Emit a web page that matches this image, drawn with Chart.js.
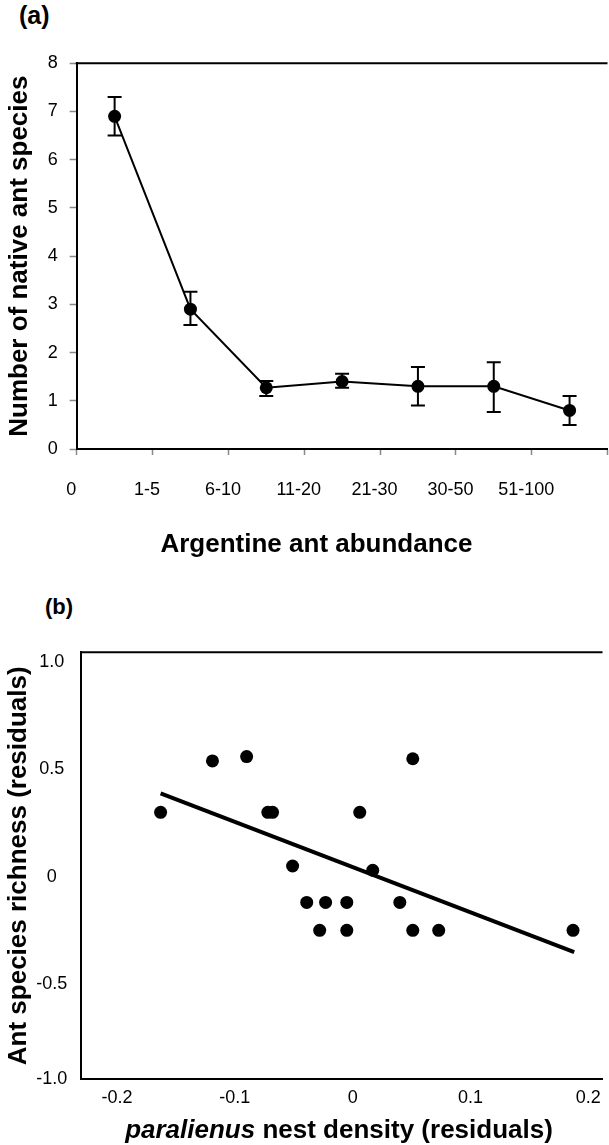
<!DOCTYPE html>
<html>
<head>
<meta charset="utf-8">
<script src="https://cdn.jsdelivr.net/npm/chart.js@4.4.1/dist/chart.umd.min.js"></script>
<style>
  html, body { margin: 0; padding: 0; background: #fff; overflow: hidden; }
  body { width: 609px; height: 1145px; position: relative; font-family: 'Liberation Sans', Arial, sans-serif; }
  .wrap { position: absolute; left: 0; }
  #wrapA { top: 0; width: 614px; height: 580px; }
  #wrapB { top: 580px; width: 609px; height: 565px; }
  .lbl { position: absolute; font-weight: bold; color: #000; white-space: nowrap; line-height: 1; }
</style>
</head>
<body>
<div class="lbl" style="left:19px; top:3px; font-size:25px;">(a)</div>
<div class="wrap" id="wrapA"><canvas id="chartA" width="614" height="580"></canvas></div>
<div class="lbl" style="left:0; width:633px; text-align:center; top:530px; font-size:26px;">Argentine ant abundance</div>

<div class="lbl" style="left:45px; top:596px; font-size:22px;">(b)</div>
<div class="wrap" id="wrapB"><canvas id="chartB" width="609" height="565"></canvas></div>
<div class="lbl" style="left:0; width:678px; text-align:center; top:1116px; font-size:26px;"><i>paralienus</i> nest density (residuals)</div>

<script>
// panel (a): native species vs Argentine ant abundance class
const abundance = ['0', '1-5', '6-10', '11-20', '21-30', '30-50', '51-100'];
const meanSpecies = [6.9, 2.9, 1.27, 1.4, 1.3, 1.3, 0.8];
const upperSpecies = [7.3, 3.26, 1.41, 1.56, 1.7, 1.8, 1.1];
const lowerSpecies = [6.5, 2.57, 1.1, 1.27, 0.9, 0.77, 0.5];

// panel (b): residual scatter + fitted line
const densityX = [-0.163, -0.119, -0.090, -0.072, -0.068, 0.006, 0.051, -0.051, 0.017,
                  -0.039, -0.023, -0.005, 0.040, -0.028, -0.005, 0.051, 0.073, 0.187];
const richnessY = [0.30, 0.54, 0.56, 0.30, 0.30, 0.30, 0.55, 0.05, 0.03,
                   -0.12, -0.12, -0.12, -0.12, -0.25, -0.25, -0.25, -0.25, -0.25];
const fitX = [-0.163, 0.188];
const fitY = [0.389, -0.352];
const xTicksB = [-0.2, -0.1, 0, 0.1, 0.2];
const yTicksB = [-1.0, -0.5, 0, 0.5, 1.0];

Chart.defaults.font.family = "'Liberation Sans', Arial, sans-serif";
Chart.defaults.color = '#000';

const fmt = v => (v === 0 ? '0' : v.toFixed(1));

// plot rectangles (canvas px)
const areaA = { left: 76.7, top: 63.3, right: 613.4, bottom: 449, height: 580 };
const areaB = { left: 81.3, top: 72.3, bottom: 499.3, height: 565 };

const topFrame = {
  id: 'topFrame',
  afterDraw(chart) {
    const a = chart.chartArea, ctx = chart.ctx;
    ctx.save();
    ctx.strokeStyle = '#000';
    ctx.lineWidth = 2;
    ctx.beginPath();
    ctx.moveTo(a.left - 1, a.top);
    ctx.lineTo(a.right, a.top);
    ctx.stroke();
    ctx.restore();
  }
};

const errorBars = {
  id: 'errorBars',
  beforeDatasetsDraw(chart) {
    const meta = chart.getDatasetMeta(0);
    const y = chart.scales.y;
    const ctx = chart.ctx;
    ctx.save();
    ctx.strokeStyle = '#000';
    ctx.lineWidth = 2;
    meta.data.forEach((pt, i) => {
      const top = y.getPixelForValue(upperSpecies[i]);
      const bot = y.getPixelForValue(lowerSpecies[i]);
      ctx.beginPath();
      ctx.moveTo(pt.x, top); ctx.lineTo(pt.x, bot);
      ctx.moveTo(pt.x - 7, top); ctx.lineTo(pt.x + 7, top);
      ctx.moveTo(pt.x - 7, bot); ctx.lineTo(pt.x + 7, bot);
      ctx.stroke();
    });
    ctx.restore();
  }
};

new Chart(document.getElementById('chartA'), {
  type: 'line',
  data: {
    labels: abundance,
    datasets: [{
      data: meanSpecies,
      borderColor: '#000',
      borderWidth: 2,
      backgroundColor: '#000',
      pointRadius: 6.5,
      pointBorderWidth: 0,
      tension: 0
    }]
  },
  options: {
    responsive: false,
    animation: false,
    devicePixelRatio: 1,
    layout: { padding: { top: areaA.top, left: 0, right: 0, bottom: 0 } },
    plugins: { legend: { display: false }, tooltip: { enabled: false } },
    scales: {
      x: {
        type: 'category',
        offset: true,
        grid: { offset: true, drawOnChartArea: false, drawTicks: true, tickLength: 6, tickColor: '#888', tickWidth: 1.5 },
        border: { color: '#000', width: 2 },
        ticks: {
          // labels sit near the left boundary of each class
          labelOffset: -(areaA.right - areaA.left) / abundance.length / 2 - 5,
          padding: 24, font: { size: 18 }, color: '#000', maxRotation: 0, autoSkip: false
        },
        afterFit(s) { s.height = areaA.height - areaA.bottom; s.paddingLeft = 0; s.paddingRight = 0; }
      },
      y: {
        min: 0, max: 8,
        ticks: { stepSize: 1, padding: 12, font: { size: 18 }, color: '#000' },
        grid: { drawOnChartArea: false, tickLength: 7, tickColor: '#888', tickWidth: 1.5 },
        border: { color: '#000', width: 2 },
        title: {
          display: true, text: 'Number of native ant species', color: '#000',
          font: { size: 26, weight: 'bold' }, padding: { top: 4, bottom: 0 }
        },
        afterFit(s) { s.width = areaA.left; s.paddingTop = 0; s.paddingBottom = 0; }
      }
    }
  },
  plugins: [errorBars, topFrame]
});

new Chart(document.getElementById('chartB'), {
  type: 'scatter',
  data: {
    datasets: [{
      type: 'scatter',
      data: densityX.map((x, i) => ({ x: x, y: richnessY[i] })),
      backgroundColor: '#000',
      borderWidth: 0,
      pointRadius: 6.5
    }, {
      type: 'line',
      data: fitX.map((x, i) => ({ x: x, y: fitY[i] })),
      borderColor: '#000',
      borderWidth: 4,
      pointRadius: 0,
      fill: false
    }]
  },
  options: {
    responsive: false,
    animation: false,
    devicePixelRatio: 1,
    layout: { padding: { top: areaB.top, left: 0, right: 0, bottom: 0 } },
    plugins: { legend: { display: false }, tooltip: { enabled: false } },
    scales: {
      x: {
        type: 'linear',
        min: -0.2303, max: 0.212,
        afterBuildTicks(s) { s.ticks = xTicksB.map(v => ({ value: v })); },
        ticks: { callback: v => fmt(v), padding: 8, font: { size: 18 }, color: '#000', maxRotation: 0 },
        grid: { drawOnChartArea: false, drawTicks: false },
        border: { color: '#000', width: 2 },
        afterFit(s) { s.height = areaB.height - areaB.bottom; s.paddingLeft = 0; s.paddingRight = 0; }
      },
      y: {
        type: 'linear',
        min: -0.9445, max: 1.0462,
        afterBuildTicks(s) { s.ticks = yTicksB.map(v => ({ value: Math.max(v, s.min) })); },
        ticks: {
          callback: (v, i) => fmt(yTicksB[i]),
          crossAlign: 'center', padding: 14, font: { size: 18 }, color: '#000'
        },
        grid: { drawOnChartArea: false, drawTicks: false },
        border: { color: '#000', width: 2 },
        title: {
          display: true, text: 'Ant species richness (residuals)', color: '#000',
          font: { size: 26, weight: 'bold' }, padding: { top: 3, bottom: 0 }
        },
        afterFit(s) { s.width = areaB.left; s.paddingTop = 0; s.paddingBottom = 0; }
      }
    }
  },
  plugins: [topFrame]
});
</script>
</body>
</html>
